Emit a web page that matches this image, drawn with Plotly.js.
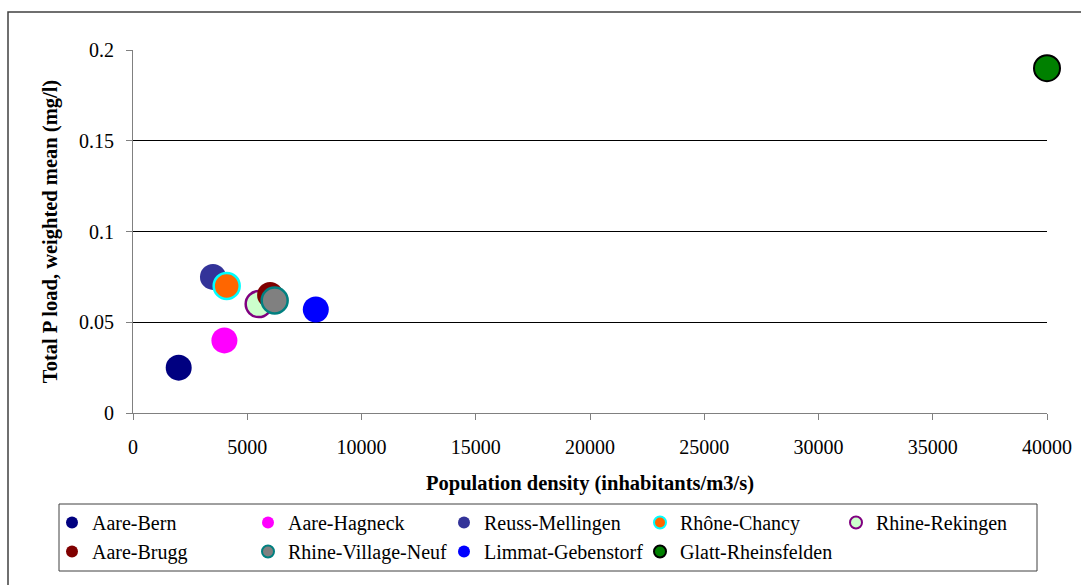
<!DOCTYPE html>
<html>
<head>
<meta charset="utf-8">
<script src="https://cdn.plot.ly/plotly-3.0.1.min.js"></script>
<style>
html,body{margin:0;padding:0;background:#fff;}
#chart{width:1081px;height:585px;}
</style>
</head>
<body>
<div id="chart"></div>
<script>
// Data
const stations = ["Aare-Bern","Aare-Hagneck","Reuss-Mellingen","Rhône-Chancy","Rhine-Rekingen","Aare-Brugg","Rhine-Village-Neuf","Limmat-Gebenstorf","Glatt-Rheinsfelden"];
const popDensity = [2000, 4000, 3500, 4100, 5500, 6000, 6200, 8000, 40000];
const totalP = [0.025, 0.040, 0.075, 0.070, 0.060, 0.065, 0.062, 0.057, 0.190];
const fillColors = ["#000080","#FF00FF","#333399","#FF6600","#CCFFCC","#800000","#808080","#0000FF","#008000"];
const lineColors = ["#000080","#FF00FF","#333399","#00FFFF","#800080","#800000","#008080","#0000FF","#000000"];
const lineWidths = [0,0,0,2.5,2.5,0,2.5,0,2];
const xTicks = [0,5000,10000,15000,20000,25000,30000,35000,40000];
const yTicks = [0,0.05,0.1,0.15,0.2];
const yTickText = ["0","0.05","0.1","0.15","0.2"];

const font = "Liberation Serif, Times New Roman, serif";

const traces = stations.map((name, i) => ({
  type: "scatter",
  mode: "markers",
  name: name,
  x: [popDensity[i]],
  y: [totalP[i]],
  cliponaxis: false,
  marker: {
    size: 26,
    color: fillColors[i],
    line: {color: lineColors[i], width: lineWidths[i]}
  }
}));

const L = 133, R = 1047, T = 50, B = 413;
const W = R - L, H = B - T;
const px = v => (v - L) / W;
const py = v => (B - v) / H;

const layout = {
  width: 1081,
  height: 585,
  margin: {l: L, r: 1081 - R, t: T, b: 585 - B},
  paper_bgcolor: "#ffffff",
  plot_bgcolor: "#ffffff",
  font: {family: font, size: 20, color: "#000"},
  showlegend: true,
  xaxis: {
    range: [0, 40000],
    tickvals: xTicks,
    ticktext: xTicks.map(String),
    showgrid: false,
    zeroline: false,
    showline: true,
    linecolor: "#808080",
    linewidth: 1,
    ticks: "outside",
    ticklen: 6,
    tickcolor: "#808080",
    ticklabelstandoff: 10,
    tickfont: {family: font, size: 20, color: "#000"},
    title: {text: "<b>Population density (inhabitants/m3/s)</b>", font: {family: font, size: 20.5, color: "#000"}, standoff: 18}
  },
  yaxis: {
    range: [0, 0.2],
    tickvals: yTicks,
    ticktext: yTickText,
    showgrid: true,
    gridcolor: "#000000",
    gridwidth: 1,
    zeroline: false,
    showline: true,
    linecolor: "#808080",
    linewidth: 1,
    ticks: "outside",
    ticklen: 6,
    tickcolor: "#808080",
    ticklabelstandoff: 8,
    tickfont: {family: font, size: 20, color: "#000"},
    title: {text: "<b>Total P load, weighted mean (mg/l)</b>", font: {family: font, size: 20.5, color: "#000"}, standoff: 15}
  },
  legend: {
    orientation: "h",
    x: px(52),
    y: py(503),
    xanchor: "left",
    yanchor: "top",
    bgcolor: "rgba(0,0,0,0)",
    borderwidth: 0,
    entrywidth: 151,
    entrywidthmode: "pixels",
    itemsizing: "constant",
    tracegroupgap: 0,
    font: {family: font, size: 20, color: "#000"}
  },
  shapes: [
    {type: "rect", xref: "paper", yref: "paper",
     x0: px(8), x1: px(1400), y0: py(12), y1: py(800),
     line: {color: "#404040", width: 1.5}, fillcolor: "rgba(0,0,0,0)", layer: "below"},
    {type: "rect", xref: "paper", yref: "paper",
     x0: px(59), x1: px(1037), y0: py(504), y1: py(571),
     line: {color: "#404040", width: 1}, fillcolor: "rgba(0,0,0,0)", layer: "below"}
  ]
};

Plotly.newPlot("chart", traces, layout, {displayModeBar: false, staticPlot: true});
</script>
</body>
</html>
